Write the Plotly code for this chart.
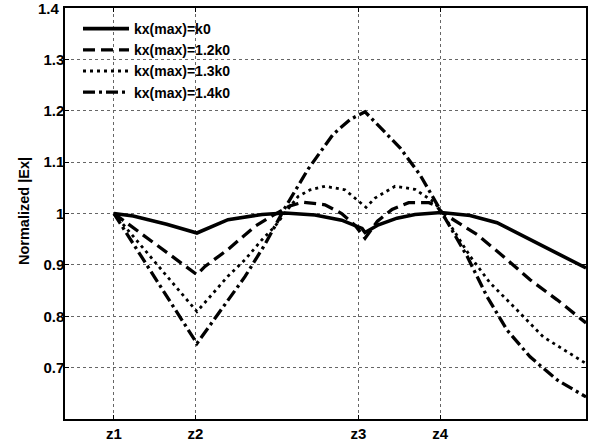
import plotly.graph_objects as go

# x positions in axis units (z1=1, z2=2, z3=4, z4=5)
tick_pos = [1, 2, 4, 5]
tick_text = ["z1", "z2", "z3", "z4"]
y_ticks = [0.7, 0.8, 0.9, 1.0, 1.1, 1.2, 1.3, 1.4]
y_tick_text = ["0.7", "0.8", "0.9", "1", "1.1", "1.2", "1.3", "1.4"]

names = ["kx(max)=k0", "kx(max)=1.2k0", "kx(max)=1.3k0", "kx(max)=1.4k0"]

x_k0 = [1.000, 1.237, 1.647, 2.018, 2.399, 2.816, 3.098, 3.466, 3.793, 4.043, 4.080,
        4.245, 4.472, 4.693, 5.012, 5.368, 5.699, 6.018, 6.350, 6.790]
y_k0 = [1.000, 0.995, 0.979, 0.962, 0.988, 0.998, 1.001, 0.997, 0.987, 0.971, 0.963,
        0.978, 0.991, 0.998, 1.002, 0.996, 0.982, 0.956, 0.930, 0.894]

x_12 = [1.000, 2.018, 2.117, 2.399, 2.730, 2.935, 3.160, 3.319, 3.589, 3.793, 3.957, 4.080,
        4.232, 4.411, 4.615, 4.865, 4.963, 5.012, 5.123, 5.454, 5.773, 6.104, 6.436, 6.790]
y_12 = [1.000, 0.881, 0.897, 0.930, 0.975, 0.995, 1.015, 1.022, 1.017, 1.000, 0.977, 0.952,
        0.985, 1.008, 1.021, 1.021, 1.014, 1.003, 0.992, 0.959, 0.917, 0.871, 0.832, 0.787]

x_13 = [1.000, 2.018, 2.399, 2.607, 2.816, 2.975, 3.098, 3.258, 3.405, 3.589, 3.834, 4.043,
        4.092, 4.202, 4.448, 4.693, 4.939, 5.012, 5.098, 5.160, 5.368, 5.613, 5.945, 6.264, 6.790]
y_13 = [1.000, 0.809, 0.878, 0.910, 0.949, 0.975, 1.001, 1.033, 1.046, 1.053, 1.046, 1.018,
        1.012, 1.030, 1.053, 1.047, 1.021, 1.002, 0.982, 0.969, 0.917, 0.865, 0.812, 0.760, 0.708]

x_14 = [1.000, 2.018, 2.607, 2.853, 3.098, 3.380, 3.687, 3.896, 4.080, 4.509, 4.755, 4.963,
        5.012, 5.123, 5.331, 5.577, 5.822, 6.104, 6.436, 6.790]
y_14 = [1.000, 0.747, 0.877, 0.940, 1.011, 1.086, 1.154, 1.183, 1.198, 1.128, 1.075, 1.018,
        1.003, 0.975, 0.917, 0.838, 0.773, 0.721, 0.676, 0.643]

series = [
    (x_k0, y_k0, names[0], "solid", 3.6),
    (x_12, y_12, names[1], "12px,6px", 3.3),
    (x_13, y_13, names[2], "3px,4px", 2.8),
    (x_14, y_14, names[3], "12px,4px,3px,4px", 3.3),
]

FONT = "Arial, 'Liberation Sans', Helvetica, sans-serif"

fig = go.Figure()
for xs, ys, nm, dash, w in series:
    fig.add_trace(go.Scatter(x=xs, y=ys, mode="lines", name=nm,
                             line=dict(color="black", width=w, dash=dash)))

axis_common = dict(
    showline=True, linecolor="black", linewidth=1.5, mirror="ticks",
    ticks="inside", ticklen=4, tickcolor="black", tickwidth=1,
    showgrid=True, gridcolor="#666666", griddash="dot", gridwidth=1,
    zeroline=False, automargin=False,
    tickfont=dict(family=FONT, size=15, color="black", weight="bold"),
)

fig.update_xaxes(range=[0.4, 6.79], tickmode="array", tickvals=tick_pos,
                 ticktext=tick_text, **axis_common)
fig.update_yaxes(range=[0.6, 1.4], tickmode="array", tickvals=y_ticks[:-1],
                 ticktext=y_tick_text[:-1], ticklabelstandoff=-4, **axis_common)

# top tick label (plotly drops the label sitting exactly on the range end)
fig.add_annotation(text=y_tick_text[-1], xref="paper", yref="y",
                   x=-(3 / 521), y=y_ticks[-1], showarrow=False,
                   xanchor="right", yanchor="middle",
                   font=dict(family=FONT, size=15, color="black", weight="bold"))

fig.add_annotation(text="Normalized |Ex|", xref="paper", yref="paper",
                   x=(24 - 65) / 521, y=(419 - 211) / 411, textangle=-90,
                   showarrow=False, xanchor="center", yanchor="middle",
                   font=dict(family=FONT, size=14.5, color="black", weight="bold"))

fig.update_layout(
    width=590, height=448,
    margin=dict(l=65, r=4, t=8, b=29, autoexpand=False),
    paper_bgcolor="white", plot_bgcolor="white",
    showlegend=True,
    legend=dict(x=(78 - 65) / 521, y=(419 - 13) / 411, xanchor="left", yanchor="top",
                bgcolor="rgba(0,0,0,0)", borderwidth=0, tracegroupgap=0,
                itemwidth=46,
                font=dict(family=FONT, size=14, color="black", weight="bold")),
)

html = fig.to_html(include_plotlyjs=True, full_html=True,
                   config={"displayModeBar": False})
html = html.replace("<head>", "<head><style>html,body{margin:0;padding:0;overflow:hidden;}</style>", 1)
with open("out.html", "w", encoding="utf-8") as f:
    f.write(html)
